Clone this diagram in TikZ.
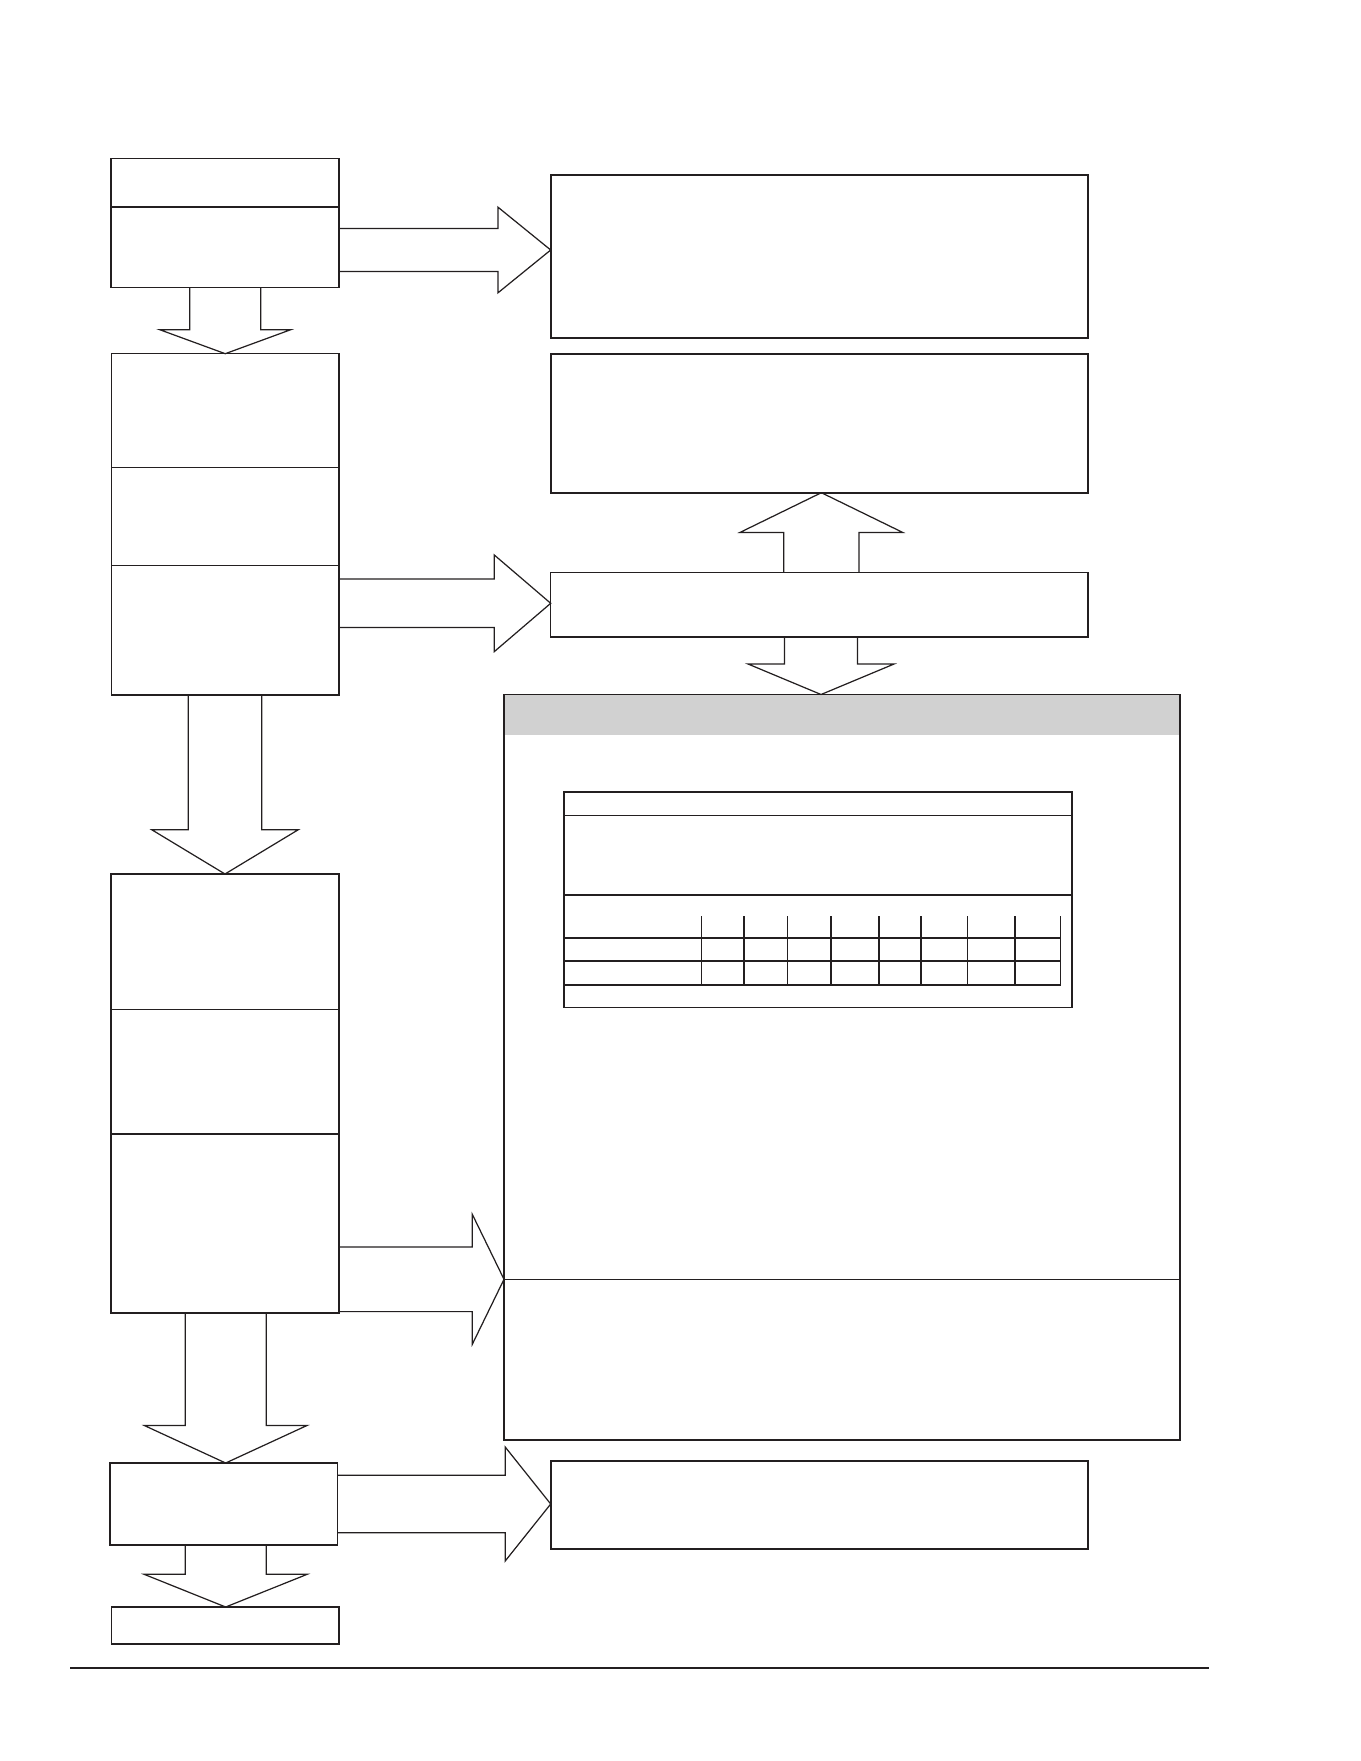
\documentclass[tikz,border=0pt]{standalone}
\usepackage{tikz}
\usetikzlibrary{calc}
\definecolor{inchiostro}{RGB}{35,31,32}
\definecolor{grigioTesta}{RGB}{209,209,209}
% frecce a blocco: #1 nodo di partenza, #2 punta, #3 mezza asta, #4 mezza testa, #5 lunghezza testa
\newcommand{\frecciaDx}[5]{
\draw[blocco] ($(#1 |- #2)+(0,-#3)$) -- ($(#2)+(-#5,-#3)$) -- ($(#2)+(-#5,-#4)$) -- (#2) -- ($(#2)+(-#5,#4)$) -- ($(#2)+(-#5,#3)$) -- ($(#1 |- #2)+(0,#3)$);
}
\newcommand{\frecciaGiu}[5]{
\draw[blocco] ($(#1 -| #2)+(-#3,0)$) -- ($(#2)+(-#3,-#5)$) -- ($(#2)+(-#4,-#5)$) -- (#2) -- ($(#2)+(#4,-#5)$) -- ($(#2)+(#3,-#5)$) -- ($(#1 -| #2)+(#3,0)$);
}
\newcommand{\frecciaSu}[5]{
\draw[blocco] ($(#1 -| #2)+(-#3,0)$) -- ($(#2)+(-#3,#5)$) -- ($(#2)+(-#4,#5)$) -- (#2) -- ($(#2)+(#4,#5)$) -- ($(#2)+(#3,#5)$) -- ($(#1 -| #2)+(#3,0)$);
}
\tikzset{
    scatola/.style 2 args={draw=inchiostro, line width=0.85pt, anchor=north west, inner sep=0pt, outer sep=0pt, minimum width={#1*0.02cm}, minimum height={#2*0.02cm}},
    scatolaSpessa/.style 2 args={scatola={#1}{#2}, line width=1.15pt},
    blocco/.style={draw=inchiostro, line width=0.7pt, line join=miter},
    divisorio/.style={draw=inchiostro, line width=0.6pt},
}

\begin{document}
\begin{tikzpicture}[x=0.02cm, y=-0.02cm]
    \useasboundingbox (0,0) rectangle (1361,1761);
    % Colonna sinistra
    \node[scatola={228}{129}] (sx1) at (111,158.5) {};
    \node[scatola={227.5}{341.3}] (sx2) at (111.5,353.7) {};
    \node[scatola={228}{439}] (sx3) at (111,874) {};
    \node[scatola={227.3}{82}] (sx4) at (110,1463) {};
    \node[scatola={227.3}{37}] (sx5) at (111.7,1607) {};
    % divisori delle caselle
    \draw[divisorio] ($(sx1.north west)+(0,48.5)$) -- ($(sx1.north east)+(0,48.5)$);
    \foreach \d in {114,211.6}{
        \draw[divisorio] ($(sx2.north west)+(0,\d)$) -- ($(sx2.north east)+(0,\d)$);
    }
    \foreach \d in {135.5,260}{
        \draw[divisorio] ($(sx3.north west)+(0,\d)$) -- ($(sx3.north east)+(0,\d)$);
    }
    % Colonna destra
    \node[scatolaSpessa={537.3}{163}] (dx1) at (550.7,174.7) {};
    \node[scatolaSpessa={537.3}{139}] (dx2) at (550.7,353.7) {};
    \node[scatola={537.3}{64.7}] (dx3) at (550.7,572.3) {};
    \node[scatolaSpessa={537.3}{88}] (dx4) at (550.7,1460.7) {};
    % Riquadro grande con testata grigia
    \fill[grigioTesta] (504,694.5) rectangle (1180,734.5);
    \node[scatola={676}{745.5}, line width=0.7pt] (grande) at (504,694.5) {};
    \coordinate (divF) at ($(grande.north west)+(0,584.8)$);
    \draw[divisorio] (divF) -- (divF -| grande.east);
    % Tabella interna
    \node[scatola={508}{215.5}, line width=0.75pt] (tab) at (564,792) {};
    \begin{scope}[shift={(tab.north west)}]
        \draw[divisorio] (0,23.5) -- (508,23.5);
        \draw[divisorio] (0,103) -- (508,103);
        \foreach \r in {146,169,193}{
            \draw[divisorio] (0,\r) -- (496.5,\r);
        }
        \foreach \c in {137.5,223.7,267,315,357,451,496.5}{
            \draw[divisorio] (\c,124) -- (\c,193);
        }
        \foreach \c in {180,403.5}{
            \draw[divisorio, line width=1pt] (\c,124) -- (\c,193);
        }
    \end{scope}
    % Frecce
    \coordinate (pB) at ($(dx1.north west)+(0,75.3)$);
    \frecciaDx{sx1.east}{pB}{21.5}{42.8}{52.7}
    \frecciaGiu{sx1.south}{sx2.north}{35.5}{65.5}{24}
    \coordinate (pE) at ($(dx3.north west)+(0,31)$);
    \frecciaDx{sx2.east}{pE}{24.3}{48.3}{56.4}
    \coordinate (pD) at ($(dx2.south)+(2,0)$);
    \frecciaSu{dx3.north}{pD}{37.7}{81.3}{39.7}
    \coordinate (pF) at ($(grande.north -| dx3.south)+(1.7,0)$);
    \frecciaGiu{dx3.south}{pF}{36.5}{73}{30.5}
    \frecciaGiu{sx2.south}{sx3.north}{36.7}{73.3}{44.3}
    \frecciaDx{sx3.east}{divF}{32.3}{65}{31.7}
    \coordinate (pG) at ($(sx4.north)+(2,0)$);
    \frecciaGiu{sx3.south}{pG}{40.5}{81.3}{37.5}
    \coordinate (pH) at ($(dx4.north west)+(0,43.3)$);
    \frecciaDx{sx4.east}{pH}{28.8}{57}{45.5}
    \coordinate (pI) at ($(sx5.north)+(0.3,0)$);
    \frecciaGiu{sx4.south}{pI}{40.5}{81.5}{32.7}
    % Riga di fondo
    \draw[divisorio] (70,1668) -- (1209,1668);
\end{tikzpicture}
\end{document}
